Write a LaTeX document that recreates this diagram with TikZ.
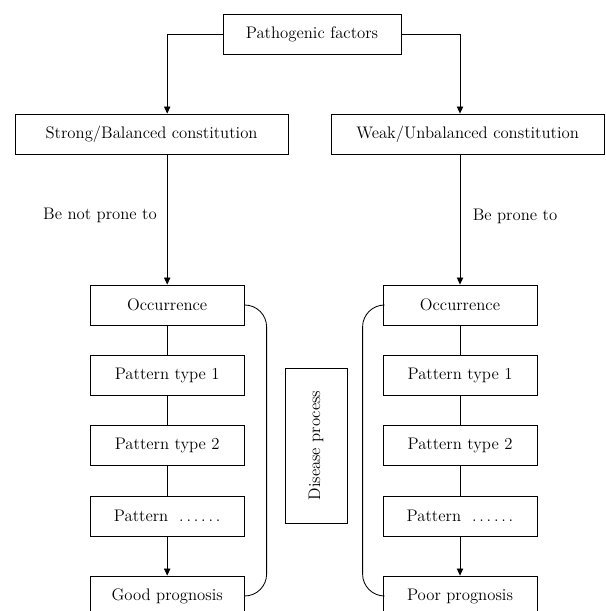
\documentclass[tikz,border=0pt]{standalone}
\usetikzlibrary{arrows.meta, calc}

\newcommand{\sixdots}{.\,.\,.\,.\,.\,.}

\begin{document}
\begin{tikzpicture}[
	font=\fontsize{11.9}{14}\selectfont,
	box/.style={draw, line width=0.6pt, minimum height=1cm, inner sep=0pt},
	wide/.style={box, minimum width=6.83cm},
	stage/.style={box, minimum width=3.85cm},
	link/.style={line width=0.6pt},
	arr/.style={link, -{Triangle[length=5pt, width=4.5pt]}}]
	\useasboundingbox (0,0) rectangle (15.125,-15.275);
	% top and constitutions
	\node[box, minimum width=4.45cm] (pf) at (7.8,-0.85) {Pathogenic factors};
	\node[wide] (strong) at (3.79,-3.35) {Strong/Balanced constitution};
	\node[wide] (weak) at (11.69,-3.35) {Weak/Unbalanced constitution};
	% left column
	\node[stage] (occL) at (4.18,-7.625) {Occurrence};
	\node[stage] (ptL1) at (4.18,-9.375) {Pattern type 1};
	\node[stage] (ptL2) at (4.18,-11.125) {Pattern type 2};
	\node[stage] (ptL3) at (4.18,-12.9) {Pattern \ \sixdots};
	\node[stage] (good) at (4.18,-14.9) {Good prognosis};
	% right column
	\node[stage] (occR) at (11.5,-7.625) {Occurrence};
	\node[stage] (ptR1) at (11.5,-9.375) {Pattern type 1};
	\node[stage] (ptR2) at (11.5,-11.125) {Pattern type 2};
	\node[stage] (ptR3) at (11.5,-12.9) {Pattern \ \sixdots};
	\node[stage] (poor) at (11.5,-14.9) {Poor prognosis};
	% middle
	\node[box, rotate=90, minimum width=3.875cm, minimum height=1.55cm] (dis) at (7.9,-11.14) {Disease process};
	\node (notprone) at (2.5,-5.375) {Be not prone to};
	\node (prone) at (12.875,-5.4) {Be prone to};

	\draw[arr] (pf.west) -| (strong.north -| occL);
	\draw[arr] (pf.east) -| (weak.north -| occR);
	\draw[arr] (strong.south -| occL) -- (occL);
	\draw[arr] (weak.south -| occR) -- (occR);
	\draw[link] (occL) -- (ptL1) -- (ptL2) -- (ptL3);
	\draw[link] (occR) -- (ptR1) -- (ptR2) -- (ptR3);
	\draw[arr] (ptL3) -- (good);
	\draw[arr] (ptR3) -- (poor);
	\draw[link, rounded corners=0.55cm] (occL.east) -- ++(0.55,0) |- (good.east);
	\draw[link, rounded corners=0.55cm] (occR.west) -- ++(-0.5,0) |- (poor.west);
\end{tikzpicture}
\end{document}
